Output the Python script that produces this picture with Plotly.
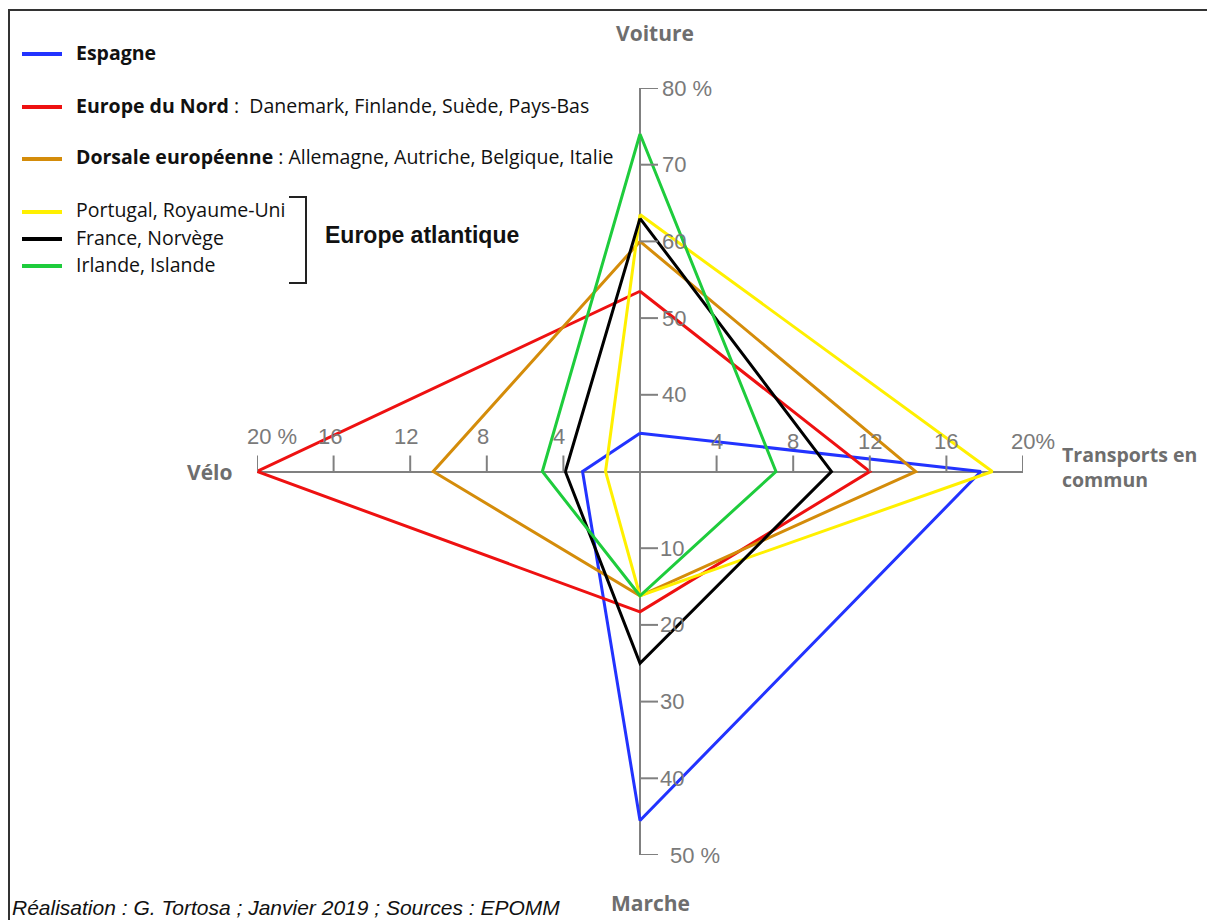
import plotly.graph_objects as go

# the page body has an 8 px margin, so the figure is made 8 px smaller
# and every target pixel position is moved back by 8 px
OFF = 8
W, H = 1215 - OFF, 920 - OFF


def px(x):
    return (x - OFF) / W


def py(y):
    return 1 - (y - OFF) / H


# Data (parts modales, %)
groups = ["Espagne", "Europe du Nord", "Dorsale européenne",
          "Portugal, Royaume-Uni", "France, Norvège", "Irlande, Islande"]
colors = ["#2233ff", "#ee1111", "#d48c0a", "#fff000", "#000000", "#1ecc3c"]
voiture = [35, 53.5, 60, 63.5, 63, 74]
transports = [17.8, 12, 14.4, 18.4, 10, 7.1]
marche = [45.5, 18.3, 16.2, 16.2, 25, 16.2]
velo = [3, 20, 10.8, 1.8, 3.9, 5.1]

# Axis ticks
voiture_ticks = [40, 50, 60, 70, 80]
marche_ticks = [10, 20, 30, 40, 50]
tc_ticks = [4, 8, 12, 16, 20]
velo_ticks = [4, 8, 12, 16, 20]
voiture_origin = 30  # the car axis starts at 30 % in the centre

fig = go.Figure()

# one closed quadrilateral per group: Voiture -> TC -> Marche -> Vélo
for i, g in enumerate(groups):
    xs = [0, transports[i], 0, -velo[i], 0]
    ys = [voiture[i] - voiture_origin, 0, -marche[i], 0, voiture[i] - voiture_origin]
    fig.add_trace(go.Scatter(
        x=xs, y=ys, mode='lines',
        line=dict(color=colors[i], width=3),
        name=g, showlegend=False,
        customdata=[voiture[i], transports[i], marche[i], velo[i], voiture[i]],
        hovertemplate=g + ': %{customdata} %<extra></extra>',
    ))

shapes = []
annotations = []
tick_font = dict(family='Liberation Sans, Arial', size=22, color='#7a7a7a')
axis_col = '#808080'

# vertical axis ticks (to the right)
for v in voiture_ticks:
    shapes.append(dict(type='line', xref='x', yref='y', xsizemode='pixel', xanchor=0,
                       x0=0, x1=18, y0=v - voiture_origin, y1=v - voiture_origin,
                       line=dict(color=axis_col, width=2)))
    annotations.append(dict(x=0, y=v - voiture_origin, xref='x', yref='y',
                            text=f'{v} %' if v == voiture_ticks[-1] else str(v),
                            showarrow=False, xanchor='left', yanchor='middle',
                            xshift=20, font=tick_font))
for m in marche_ticks:
    shapes.append(dict(type='line', xref='x', yref='y', xsizemode='pixel', xanchor=0,
                       x0=0, x1=18, y0=-m, y1=-m,
                       line=dict(color=axis_col, width=2)))
    annotations.append(dict(x=0, y=-m, xref='x', yref='y',
                            text=f'{m} %' if m == marche_ticks[-1] else str(m),
                            showarrow=False, xanchor='left', yanchor='middle',
                            xshift=28 if m == marche_ticks[-1] else 18, font=tick_font))

# horizontal axis ticks (upward)
for t in tc_ticks:
    shapes.append(dict(type='line', xref='x', yref='y', ysizemode='pixel', yanchor=0,
                       y0=0, y1=16, x0=t, x1=t, line=dict(color=axis_col, width=2)))
    annotations.append(dict(x=t, y=0, xref='x', yref='y',
                            text=f'{t}%' if t == tc_ticks[-1] else str(t),
                            showarrow=False, xanchor='center', yanchor='bottom', yshift=16,
                            xshift=10 if t == tc_ticks[-1] else 0, font=tick_font))
for b in velo_ticks:
    shapes.append(dict(type='line', xref='x', yref='y', ysizemode='pixel', yanchor=0,
                       y0=0, y1=16, x0=-b, x1=-b, line=dict(color=axis_col, width=2)))
    annotations.append(dict(x=-b, y=0, xref='x', yref='y',
                            text=f'{b} %' if b == velo_ticks[-1] else str(b),
                            showarrow=False, xanchor='center', yanchor='bottom', yshift=21,
                            xshift=15 if b == velo_ticks[-1] else -4, font=tick_font))

# axis names
name_font = dict(family='Open Sans', size=21, color='#6e6e6e')
annotations += [
    dict(x=px(655), y=py(33), text='<b>Voiture</b>', xanchor='center', font=name_font),
    dict(x=px(650), y=py(903), text='<b>Marche</b>', xanchor='center', font=name_font),
    dict(x=px(234), y=py(472), text='<b>Vélo</b>', xanchor='right', font=name_font),
    dict(x=px(1060), y=py(467), text='<b>Transports en<br>commun</b>', align='left',
         xanchor='left', font=dict(family='Open Sans', size=19.5, color='#6e6e6e')),
]

# legend drawn by hand
leg_rows = [52, 105, 157, 210, 237, 264]
leg_text = [
    '<b>Espagne</b>',
    '<b>Europe du Nord</b> :  Danemark, Finlande, Suède, Pays-Bas',
    '<b>Dorsale européenne</b> : Allemagne, Autriche, Belgique, Italie',
    'Portugal, Royaume-Uni',
    'France, Norvège',
    'Irlande, Islande',
]
leg_font = dict(family='Open Sans', size=19.5, color='#111111')
for i, yy in enumerate(leg_rows):
    shapes.append(dict(type='line', xref='paper', yref='paper',
                       x0=px(22), x1=px(62), y0=py(yy + 2), y1=py(yy + 2),
                       line=dict(color=colors[i], width=4)))
    annotations.append(dict(x=px(74), y=py(yy), text=leg_text[i], xanchor='left',
                            font=leg_font))

# bracket for Europe atlantique
shapes.append(dict(type='path', xref='paper', yref='paper',
                   path=f'M {px(289)} {py(197)} L {px(306)} {py(197)} '
                        f'L {px(306)} {py(283)} L {px(289)} {py(283)}',
                   line=dict(color='#222222', width=2)))
annotations.append(dict(x=px(323), y=py(235), text='<b>Europe atlantique</b>',
                        xanchor='left',
                        font=dict(family='Liberation Sans, Arial', size=23, color='#111111')))

# credits
annotations.append(dict(x=px(10), y=py(907),
                        text='<i>Réalisation : G. Tortosa ; Janvier 2019 ; Sources : EPOMM</i>',
                        xanchor='left',
                        font=dict(family='Liberation Sans, Arial', size=21, color='#111111')))

for a in annotations:
    a.setdefault('xref', 'paper')
    a.setdefault('yref', 'paper')
    a.setdefault('yanchor', 'middle')
    a['showarrow'] = False

# frame (top and left edges)
shapes.append(dict(type='line', xref='paper', yref='paper', x0=px(8), x1=1, y0=py(10),
                   y1=py(10), line=dict(color='#333333', width=2)))
shapes.append(dict(type='line', xref='paper', yref='paper', x0=px(9), x1=px(9), y0=0,
                   y1=py(10), line=dict(color='#333333', width=2)))

fig.update_layout(
    width=W, height=H,
    margin=dict(l=0, r=0, t=0, b=0),
    paper_bgcolor='white', plot_bgcolor='white',
    xaxis=dict(range=[-20, 20], domain=[px(257), px(1023)], showgrid=False,
               zeroline=True, zerolinecolor=axis_col, zerolinewidth=2,
               showticklabels=False, ticks='', fixedrange=True),
    yaxis=dict(range=[-50, 50], domain=[py(855), py(88)], showgrid=False,
               zeroline=True, zerolinecolor=axis_col, zerolinewidth=2,
               showticklabels=False, ticks='', fixedrange=True),
    shapes=shapes,
    annotations=annotations,
    showlegend=False,
)

fig.write_html("out.html")
